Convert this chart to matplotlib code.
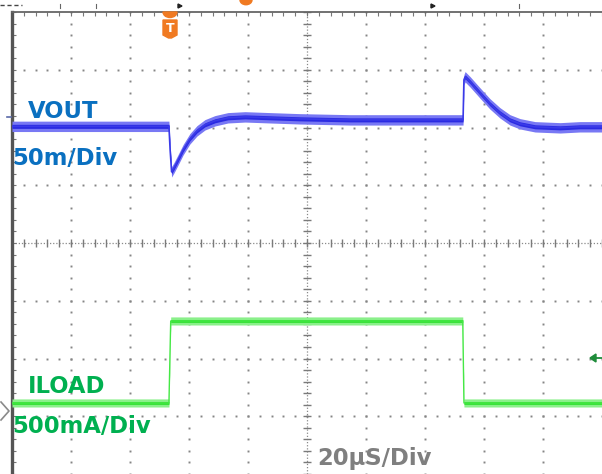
import numpy as np
import matplotlib
matplotlib.use("Agg")
import matplotlib.pyplot as plt
from matplotlib.patches import Polygon, Wedge

plt.rcParams['font.family'] = ['DejaVu Sans', 'Noto Sans CJK JP']

# ---------------- data ----------------
# time in microseconds (20 us/div, 10 divisions)
vout_time_us = [0.0, 53.2, 53.6, 54.1, 54.9, 56.3, 58.0, 60.3, 62.7, 65.4, 68.8,
                73.2, 79.0, 87.5, 97.6, 114.6, 131.5, 152.9, 153.2, 153.6, 155.3,
                158.6, 162.0, 165.4, 168.8, 172.2, 177.3, 185.8, 192.5, 200.0]
# VOUT deviation in mV (50 mV/div)
vout_dev_mv = [0.0, 0.0, -20.3, -39.4, -35.9, -29.0, -20.3, -10.8, -3.9, 1.3, 4.8,
               7.4, 8.2, 7.4, 6.5, 5.6, 5.6, 5.6, 40.3, 42.9, 38.5,
               29.0, 19.5, 11.7, 5.6, 2.2, -0.4, -1.3, -0.4, -0.4]

iload_time_us = [0.0, 53.2, 53.8, 152.8, 153.2, 200.0]
iload_ma = [20, 20, 730, 730, 20, 20]

vout_label = "VOUT"
vout_scale = "50m/Div"
iload_label = "ILOAD"
iload_scale = "500mA/Div"
time_scale = "20\u00b5S/Div"

# ---------------- scope settings ----------------
US_PER_DIV = 20.0
MV_PER_DIV = 50.0
MA_PER_DIV = 500.0
VOUT_OFFSET_DIV = 6.02
ILOAD_ZERO_DIV = 1.19

W, H = 602, 474
fig = plt.figure(figsize=(W / 100, H / 100), dpi=100)
fig.patch.set_facecolor("white")
ax = fig.add_axes([12 / W, 0, 590 / W, 462 / H])
ax.set_xlim(0, 200)
ax.set_ylim(0, 8)
ax.set_facecolor("white")

def px(x):  # figure fraction from pixel x
    return x / W

def py(y):  # figure fraction from pixel y (from top)
    return 1 - y / H

# grid dots
grid_col = "#858585"
minor_x = np.arange(0, 200.01, US_PER_DIV / 5)
minor_y = np.arange(0, 8.01, 0.2)
for i in range(1, 10):
    if i == 5:
        continue
    ax.plot(np.full_like(minor_y, i * US_PER_DIV), minor_y, ls="none", marker="s",
            ms=1.4, mec="none", mfc=grid_col, zorder=1)
for j in range(1, 8):
    if j == 4:
        continue
    ax.plot(minor_x, np.full_like(minor_x, j), ls="none", marker="s",
            ms=1.4, mec="none", mfc=grid_col, zorder=1)

# centre crosshair with ticks
ax.plot([0, 200], [4, 4], color="#8a8a8a", lw=0.9, ls=(0, (1, 1.5)), zorder=1)
ax.plot([100, 100], [0, 8], color="#8a8a8a", lw=0.9, ls=(0, (1, 1.5)), zorder=1)
ax.plot(minor_x, np.full_like(minor_x, 4), ls="none", marker="|", ms=6,
        mew=1.0, color="#7a7a7a", zorder=1)
ax.plot(np.full_like(minor_y, 100), minor_y, ls="none", marker="_", ms=6,
        mew=1.0, color="#7a7a7a", zorder=1)

# borders
for s in ("right", "bottom"):
    ax.spines[s].set_visible(False)
ax.spines["left"].set_linewidth(2.4)
ax.spines["left"].set_color("#555555")
ax.spines["top"].set_linewidth(1.3)
ax.spines["top"].set_color("#666666")
ax.set_xticks(minor_x)
ax.set_yticks(minor_y)
ax.tick_params(direction="in", length=3, width=0.8, color="#777777",
               labelleft=False, labelbottom=False, top=True, bottom=False,
               left=True, right=False)

# ---------------- traces ----------------
vt = np.array(vout_time_us)
vy = VOUT_OFFSET_DIV + np.array(vout_dev_mv) / MV_PER_DIV
ax.fill_between(vt, vy - 0.09, vy + 0.09, color="#7878f4", lw=0, zorder=3)
ax.fill_between(vt, vy - 0.035, vy + 0.035, color="#2a2ae2", lw=0, zorder=4)
ax.plot(vt, vy, color="#3a3ae8", lw=1.2, zorder=4)

it = np.array(iload_time_us)
iy = ILOAD_ZERO_DIV + np.array(iload_ma) / MA_PER_DIV
ax.fill_between(it, iy - 0.07, iy + 0.07, color="#8af08a", lw=0, zorder=3)
ax.fill_between(it, iy - 0.025, iy + 0.025, color="#33e033", lw=0, zorder=4)
ax.plot(it, iy, color="#45e845", lw=1.0, zorder=4)

# ---------------- scope markers ----------------
orange = "#f07a22"
# trigger marker
fig.patches.append(Wedge((px(170), py(12)), 7 / W, 180, 360,
                         transform=fig.transFigure, color=orange, zorder=10))
tb = Polygon([(px(163), py(20)), (px(177), py(20)), (px(177), py(35)),
              (px(171.5), py(38)), (px(168.5), py(38)), (px(163), py(35))],
             closed=True, transform=fig.transFigure, color=orange, zorder=10)
fig.patches.append(tb)
fig.text(px(170), py(28.5), "T", color="white", fontsize=9, fontweight="bold",
         ha="center", va="center", zorder=11)
# partially visible orange marker at top
fig.patches.append(Wedge((px(246), py(0)), 6 / W, 180, 360,
                         transform=fig.transFigure, color=orange, zorder=10))
# small marks above the border
fig.lines.append(plt.Line2D([px(0), px(22)], [py(5), py(5)], transform=fig.transFigure,
                            color="#444444", lw=1.0, ls=(0, (3, 2))))
for xx in (60, 96, 519):
    fig.lines.append(plt.Line2D([px(xx), px(xx)], [py(4), py(8)], transform=fig.transFigure,
                                color="#666666", lw=0.8))
for xx in (180, 433):
    fig.patches.append(Polygon([(px(xx - 2), py(4)), (px(xx + 2), py(6)), (px(xx - 2), py(8))],
                               closed=True, transform=fig.transFigure, color="#222222"))
# ILOAD channel marker on the left
fig.lines.append(plt.Line2D([px(1), px(9), px(1)], [py(402), py(411), py(420)],
                            transform=fig.transFigure, color="#8a8a8a", lw=1.2))
# VOUT channel marker on the left
fig.lines.append(plt.Line2D([px(7), px(11)], [py(117), py(117)],
                            transform=fig.transFigure, color="#5a6aa8", lw=1.2))
# trigger level arrow on the right
fig.patches.append(Polygon([(px(590), py(358)), (px(596), py(354)), (px(596), py(362))],
                           closed=True, transform=fig.transFigure, color="#1e8c3a", zorder=10))
fig.lines.append(plt.Line2D([px(595), px(602)], [py(358), py(358)],
                            transform=fig.transFigure, color="#1e8c3a", lw=1.3))

# ---------------- labels ----------------
blue = "#0a70c0"
green = "#00b050"
grey = "#7f7f7f"
fs = 16.4
fig.text(px(28), py(118), vout_label, color=blue, fontsize=fs, fontweight="bold", va="baseline")
fig.text(px(12), py(165), vout_scale, color=blue, fontsize=fs, fontweight="bold", va="baseline")
fig.text(px(28), py(393), iload_label, color=green, fontsize=fs, fontweight="bold", va="baseline")
fig.text(px(12), py(433), iload_scale, color=green, fontsize=fs, fontweight="bold", va="baseline")
fig.text(px(317), py(465), time_scale, color=grey, fontsize=fs, fontweight="bold", va="baseline")

fig.savefig("out.png", dpi=100, facecolor="white")
